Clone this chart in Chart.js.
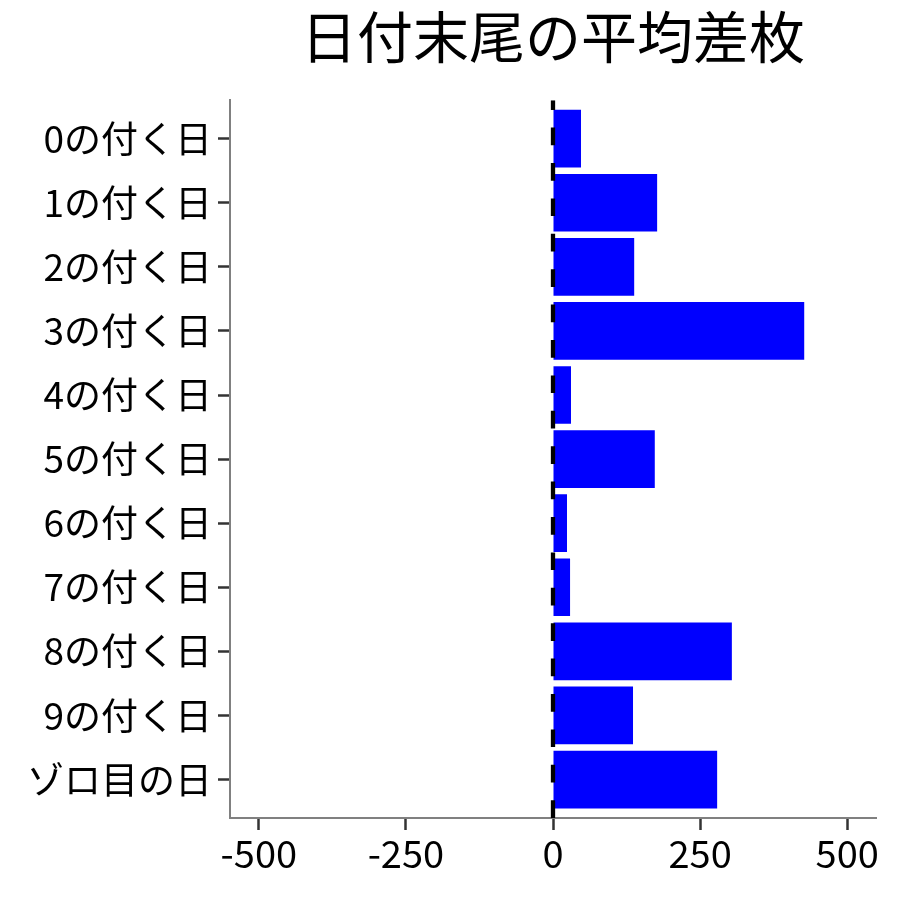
<!DOCTYPE html>
<html>
<head>
<meta charset="utf-8">
<script src="https://cdn.jsdelivr.net/npm/chart.js@4"></script>
<style>
html,body{margin:0;padding:0;background:#fff;}
#wrap{width:900px;height:900px;}
</style>
</head>
<body>
<div id="wrap"><canvas id="c" width="900" height="900"></canvas></div>
<script>
const titleText = '日付末尾の平均差枚';
const categories = ['0の付く日','1の付く日','2の付く日','3の付く日','4の付く日','5の付く日','6の付く日','7の付く日','8の付く日','9の付く日','ゾロ目の日'];
const values = [47.6, 177, 138, 427, 30.6, 173, 23.8, 29, 304, 136, 279];
const xTicks = [-500, -250, 0, 250, 500];
const refLineValue = 0;

const FONT = "'Noto Sans CJK JP', 'Noto Sans', sans-serif";

const refLine = {
  id: 'refLine',
  afterDatasetsDraw(chart) {
    const {ctx, chartArea, scales} = chart;
    const x = scales.x.getPixelForValue(refLineValue);
    ctx.save();
    ctx.beginPath();
    ctx.rect(chartArea.left, chartArea.top, chartArea.right - chartArea.left, chartArea.bottom - chartArea.top);
    ctx.clip();
    ctx.strokeStyle = '#000';
    ctx.lineWidth = 4.3;
    ctx.setLineDash([17.7, 17.7]);
    ctx.lineDashOffset = 8;
    ctx.beginPath();
    ctx.moveTo(x, chartArea.top);
    ctx.lineTo(x, chartArea.bottom);
    ctx.stroke();
    ctx.restore();
  }
};

new Chart(document.getElementById('c'), {
  type: 'bar',
  data: {
    datasets: [{
      data: values.map((v, i) => ({x: v, y: i})),
      backgroundColor: '#0000FF',
      borderWidth: 0,
      categoryPercentage: 1,
      barPercentage: 0.9
    }]
  },
  options: {
    indexAxis: 'y',
    responsive: false,
    animation: false,
    devicePixelRatio: 1,
    layout: {padding: {left: 0, right: 24, top: 0, bottom: 0}},
    plugins: {
      legend: {display: false},
      tooltip: {enabled: false},
      title: {
        display: true,
        text: titleText,
        fullSize: false,
        color: '#000',
        font: {family: FONT, size: 56, weight: 'normal', lineHeight: 1.2},
        padding: {top: 3, bottom: 30}
      }
    },
    scales: {
      x: {
        type: 'linear',
        min: -549,
        max: 549,
        offset: false,
        afterBuildTicks: (s) => { s.ticks = xTicks.map(v => ({value: v})); },
        afterFit: (s) => { s.height = 82; },
        grid: {offset: false, drawOnChartArea: false, drawTicks: true, tickLength: 12, tickColor: '#333', tickWidth: 2.5},
        border: {display: true, color: '#808080', width: 2},
        ticks: {color: '#000', font: {family: FONT, size: 38}, padding: 1, maxRotation: 0, autoSkip: false}
      },
      y: {
        type: 'linear',
        min: -0.6,
        max: 10.6,
        reverse: true,
        offset: false,
        afterBuildTicks: (s) => { s.ticks = categories.map((_, i) => ({value: i})); },
        afterFit: (s) => { s.width = 230; },
        grid: {offset: false, drawOnChartArea: false, drawTicks: true, tickLength: 12, tickColor: '#333', tickWidth: 2.5},
        border: {display: true, color: '#808080', width: 2},
        ticks: {
          color: '#000',
          font: {family: FONT, size: 37},
          padding: 6,
          autoSkip: false,
          callback: (v) => categories[v] !== undefined ? categories[v] : ''
        }
      }
    }
  },
  plugins: [refLine]
});
</script>
</body>
</html>
